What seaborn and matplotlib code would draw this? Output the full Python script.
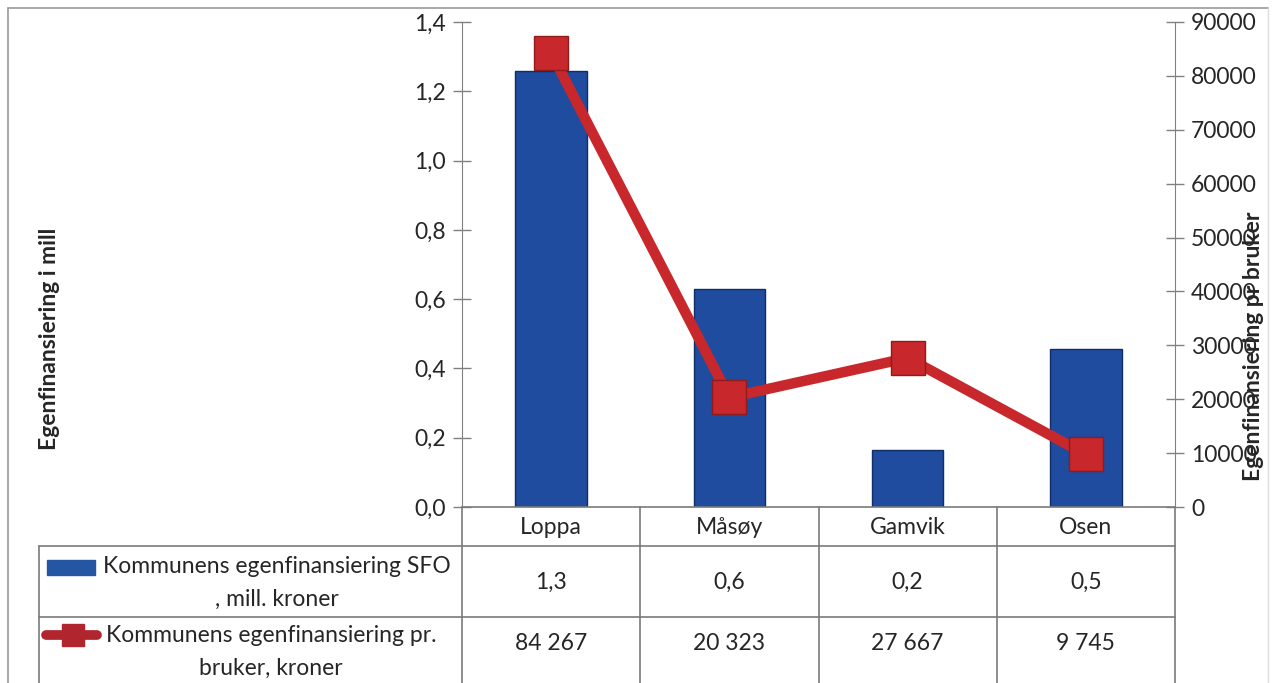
import numpy as np
import pandas as pd
import matplotlib
matplotlib.use('Agg')
import matplotlib.pyplot as plt
import seaborn as sns
from matplotlib.lines import Line2D
from matplotlib.patches import Rectangle
from matplotlib.transforms import blended_transform_factory

# data
kommuner = ['Loppa', 'Måsøy', 'Gamvik', 'Osen']
egen_mill = [1.258, 0.629, 0.165, 0.456]
egen_pr_bruker = [84267, 20323, 27667, 9745]
left_ticks = [0.0, 0.2, 0.4, 0.6, 0.8, 1.0, 1.2, 1.4]
right_ticks = [0, 10000, 20000, 30000, 40000, 50000, 60000, 70000, 80000, 90000]
row_labels = ['Kommunens egenfinansiering SFO\n, mill. kroner',
              'Kommunens egenfinansiering pr.\nbruker, kroner']

df = pd.DataFrame({'kommune': kommuner, 'mill': egen_mill, 'pr_bruker': egen_pr_bruker})

sns.set_style('white')
plt.rcParams['font.family'] = ['Lato', 'DejaVu Sans']
fs = 16.5

W, H = 1272, 683
fig = plt.figure(figsize=(W / 100, H / 100), dpi=100)
ax = fig.add_axes([462 / W, 1 - 507 / H, (1175 - 462) / W, (507 - 22) / H])

blue = '#1f4c9e'
red = '#c8282c'
grey = '#808080'

sns.barplot(data=df, x='kommune', y='mill', ax=ax, color=blue, width=0.4,
            edgecolor='#0f2d66', linewidth=1, saturation=1)
ax.set_xlim(-0.5, len(kommuner) - 0.5)
ax.set_ylim(0, 1.4)
ax.set_yticks(left_ticks)
ax.set_yticklabels([f'{t:.1f}'.replace('.', ',') for t in left_ticks], fontsize=fs)
ax.set_xticks([])
ax.set_xlabel('')
ax.set_ylabel('')

ax2 = ax.twinx()
sns.lineplot(x=np.arange(len(kommuner)), y=egen_pr_bruker, ax=ax2, color=red,
             linewidth=7.5, marker='s', markersize=25, markerfacecolor=red,
             markeredgecolor='#8e1c1c', markeredgewidth=1)
ax2.set_ylim(0, 90000)
ax2.set_yticks(right_ticks)
ax2.set_yticklabels([str(t) for t in right_ticks], fontsize=fs)
ax2.set_ylabel('')

for a in (ax, ax2):
    for s in a.spines.values():
        s.set_visible(False)
    a.tick_params(axis='y', direction='inout', length=13, width=1, color=grey, pad=5)
ax.spines['left'].set_visible(True)
ax.spines['left'].set_color(grey)
ax2.spines['right'].set_visible(True)
ax2.spines['right'].set_color(grey)
ax.yaxis.set_ticks_position('left')
ax2.yaxis.set_ticks_position('right')

fig.text(50 / W, 1 - 339 / H, 'Egenfinansiering i mill', rotation=90, fontsize=fs,
         fontweight='bold', ha='center', va='center')
fig.text(1253 / W, 1 - 346 / H, 'Egenfinansiering pr bruker', rotation=90, fontsize=fs,
         fontweight='bold', ha='center', va='center')


def fy(y):
    return 1 - y / H


def fx(x):
    return x / W


lc = '#7a7a7a'
# outer frame
fig.add_artist(Line2D([fx(8), fx(8)], [fy(8), fy(683)], color='#999999', lw=1.2))
fig.add_artist(Line2D([fx(8), fx(1268)], [fy(8), fy(8)], color='#999999', lw=1.2))
fig.add_artist(Line2D([fx(1268), fx(1268)], [fy(8), fy(683)], color='#dddddd', lw=1))

# data table below the chart
tr = blended_transform_factory(ax.transData, fig.transFigure)
n = len(kommuner)
edges = np.arange(n + 1) - 0.5
for e in edges:
    fig.add_artist(Line2D([e, e], [fy(507), fy(683)], transform=tr, color=lc, lw=1.2))
fig.add_artist(Line2D([-0.5, n - 0.5], [fy(507), fy(507)], transform=tr, color=lc, lw=1.2))
for yy in (546, 617):
    fig.add_artist(Line2D([fx(39), fx(1175)], [fy(yy), fy(yy)], color=lc, lw=1.2))
fig.add_artist(Line2D([fx(39), fx(39)], [fy(546), fy(683)], color=lc, lw=1.2))

for i, k in enumerate(kommuner):
    fig.text(i, fy(527), k, transform=tr, ha='center', va='center', fontsize=fs)
    fig.text(i, fy(582), f'{egen_mill[i]:.1f}'.replace('.', ','), transform=tr,
             ha='center', va='center', fontsize=fs)
    fig.text(i, fy(643), f'{egen_pr_bruker[i]:,}'.replace(',', ' '), transform=tr,
             ha='center', va='center', fontsize=fs)

# legend keys in the table
fig.add_artist(Rectangle((fx(47), fy(575)), fx(95) - fx(47), fy(560) - fy(575),
                         transform=fig.transFigure, color='#2456a3'))
fig.add_artist(Line2D([fx(46), fx(97)], [fy(635), fy(635)], color='#b0252e', lw=7,
                      solid_capstyle='round'))
fig.add_artist(Line2D([fx(73)], [fy(635)], color='#b0252e', marker='s', markersize=16,
                      markeredgecolor='#b0252e'))

fig.text(fx(277), fy(583), row_labels[0], ha='center', va='center', fontsize=fs,
         multialignment='center', linespacing=1.65)
fig.text(fx(271), fy(652), row_labels[1], ha='center', va='center', fontsize=fs,
         multialignment='center', linespacing=1.65)

fig.savefig('out.png', dpi=100)
